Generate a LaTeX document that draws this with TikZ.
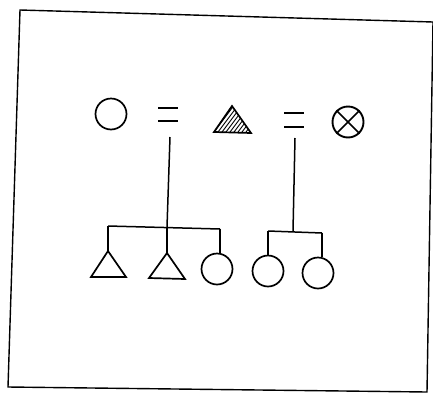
\documentclass[tikz,border=0pt]{standalone}
\usetikzlibrary{patterns}
\begin{document}
\begin{tikzpicture}[x=1pt,y=-1pt,line width=1.7pt,
  person/.style={draw,circle,minimum size=31pt,inner sep=0pt,line width=1.7pt},
  link/.style={line width=1.5pt}]
\useasboundingbox (0,0) rectangle (433,394);
\fill[white] (0,0) rectangle (433,394);
% frame
\draw[line width=1.4pt] (20,10) -- (433,22) -- (427,392) -- (8,387) -- cycle;
% top row
\node[person] (m) at (111,114) {};
\coordinate (e1a) at (158,108); \coordinate (e1b) at (178,108);
\coordinate (e1c) at (158,121); \coordinate (e1d) at (178,121);
\draw (e1a) -- (e1b); \draw (e1c) -- (e1d);
% hatched triangle
\coordinate (hA) at (232,106); \coordinate (hL) at (214,132); \coordinate (hR) at (251,133);
\begin{scope}
\clip (hA) -- (hL) -- (hR) -- cycle;
\foreach \i in {-40,-36,...,40} {\draw[line width=0.9pt] (200+\i,140) -- (230+\i,100);}
\end{scope}
\draw[line join=miter] (hA) -- (hL) -- (hR) -- cycle;
\coordinate (e2a) at (284,113); \coordinate (e2b) at (304,113);
\coordinate (e2c) at (284,127); \coordinate (e2d) at (304,127);
\draw (e2a) -- (e2b); \draw (e2c) -- (e2d);
\node[draw,circle,minimum size=31pt,inner sep=0pt,line width=1.9pt] (x) at (348,122) {};
\draw[line width=1.6pt] (x.north east) -- (x.south west) (x.north west) -- (x.south east);
% first family
\coordinate (d1) at (170,137);
\coordinate (j1) at (167,227);
\coordinate (s1l) at (108,226); \coordinate (s1r) at (220,229);
\draw[link] (d1) -- (j1);
\draw[link] (s1l) -- (s1r);
\coordinate (t1) at (108,251); \coordinate (t1l) at (91,277); \coordinate (t1r) at (126,277);
\coordinate (t2) at (167,253); \coordinate (t2l) at (149,278); \coordinate (t2r) at (185,279);
\draw[line join=miter] (t1) -- (t1l) -- (t1r) -- cycle;
\draw[line join=miter] (t2) -- (t2l) -- (t2r) -- cycle;
\node[person] (c1) at (217,269) {};
\draw[link] (s1l) -- (t1);
\draw[link] (j1) -- (t2);
\draw[link] (s1r) -- (c1.north -| s1r);
% second family
\coordinate (d2) at (295,138);
\coordinate (j2) at (293,231);
\coordinate (s2l) at (268,231); \coordinate (s2r) at (322,233);
\draw[link] (d2) -- (j2);
\draw[link] (s2l) -- (s2r);
\node[person] (c2) at (268,271) {};
\node[person] (c3) at (318,273) {};
\draw[link] (s2l) -- (c2.north);
\draw[link] (s2r) -- (s2r |- c3.north);
\end{tikzpicture}
\end{document}
